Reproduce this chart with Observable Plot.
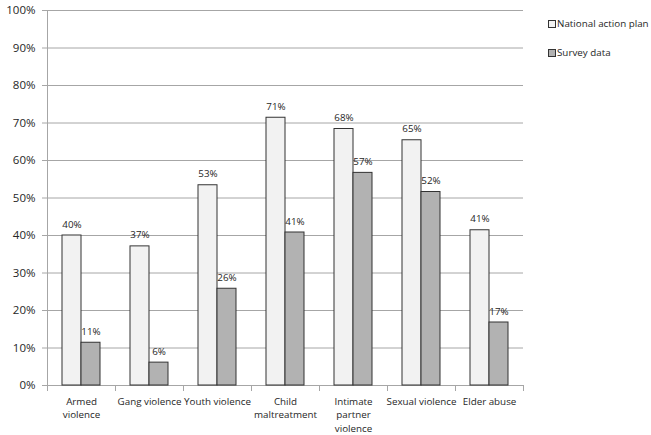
<!DOCTYPE html>
<html>
<head>
<meta charset="utf-8">
<script src="https://cdn.jsdelivr.net/npm/d3@7"></script>
<script src="https://cdn.jsdelivr.net/npm/@observablehq/plot@0.6"></script>
<style>
  body { margin: 0; background: #fff; }
  #wrap { position: relative; width: 651px; height: 435px; font-family: "Open Sans", sans-serif; }
  .legend { position: absolute; left: 548px; font-size: 9.8px; color: #262626; display: flex; align-items: center; white-space: nowrap; }
  .legend span.sw { display: inline-block; width: 6px; height: 6px; border: 1px solid #333; margin-right: 1px; }
</style>
</head>
<body>
<div id="wrap"></div>
<script>
const categories = ["Armed violence", "Gang violence", "Youth violence", "Child maltreatment", "Intimate partner violence", "Sexual violence", "Elder abuse"];
const tickLabels = ["Armed\nviolence", "Gang violence", "Youth violence", "Child\nmaltreatment", "Intimate\npartner\nviolence", "Sexual violence", "Elder abuse"];
const series = ["National action plan", "Survey data"];
const nationalPlan = [0.400, 0.371, 0.534, 0.714, 0.684, 0.654, 0.414];
const surveyData = [0.114, 0.061, 0.258, 0.408, 0.567, 0.516, 0.168];
const seriesColors = ["#f2f2f2", "#b2b2b2"];
const yTicks = [0, 0.1, 0.2, 0.3, 0.4, 0.5, 0.6, 0.7, 0.8, 0.9, 1.0];

const rows = [];
categories.forEach((c, i) => {
  rows.push({category: c, series: series[0], value: nationalPlan[i]});
  rows.push({category: c, series: series[1], value: surveyData[i]});
});

const W = 651, H = 435, mT = 10, mB = 50, mL = 47, mR = 128;
const plotH = H - mT - mB;
const gridColor = "#a6a6a6";
const textColor = "#262626";
const pct = d3.format(".0%");

const chart = Plot.plot({
  width: W, height: H,
  marginTop: mT, marginBottom: mB, marginLeft: mL, marginRight: mR,
  style: {fontFamily: "'Open Sans', sans-serif", background: "#fff", color: textColor},
  fx: {domain: categories, padding: 0, label: null},
  x: {domain: series, paddingInner: 0, paddingOuter: 0.74, axis: null},
  y: {domain: [0, 1], label: null},
  color: {domain: series, range: seriesColors},
  marks: [
    Plot.gridY(yTicks, {stroke: gridColor, strokeOpacity: 1, strokeWidth: 1}),
    Plot.axisY(yTicks, {tickFormat: pct, tickSize: 5, tickPadding: 7, stroke: gridColor, fontSize: 11.5, fill: textColor, label: null}),
    Plot.frame({anchor: "left", facet: "super", stroke: gridColor, strokeOpacity: 1}),
    Plot.frame({anchor: "left", insetTop: plotH, insetBottom: -5, stroke: gridColor, strokeOpacity: 1}),
    Plot.frame({anchor: "right", insetTop: plotH, insetBottom: -5, stroke: gridColor, strokeOpacity: 1}),
    Plot.ruleY([0], {stroke: gridColor}),
    Plot.axisFx({anchor: "bottom", tickSize: 0, tickPadding: 10, fontSize: 9.8, lineHeight: 1.36, fill: textColor, label: null,
      tickFormat: (c) => tickLabels[categories.indexOf(c)]}),
    Plot.barY(rows, {fx: "category", x: "series", y: "value", fill: "series", stroke: "#333", strokeWidth: 1}),
    Plot.text(rows, {fx: "category", x: "series", y: "value", text: (d) => pct(d.value), lineAnchor: "bottom", dy: -8, fontSize: 9.8, fill: textColor})
  ]
});

const wrap = document.getElementById("wrap");
wrap.appendChild(chart);
const legendTops = [17, 46];
series.forEach((s, i) => {
  const div = document.createElement("div");
  div.className = "legend";
  div.style.top = legendTops[i] + "px";
  const sw = document.createElement("span");
  sw.className = "sw";
  sw.style.background = seriesColors[i];
  div.appendChild(sw);
  div.appendChild(document.createTextNode(s));
  wrap.appendChild(div);
});
</script>
</body>
</html>
